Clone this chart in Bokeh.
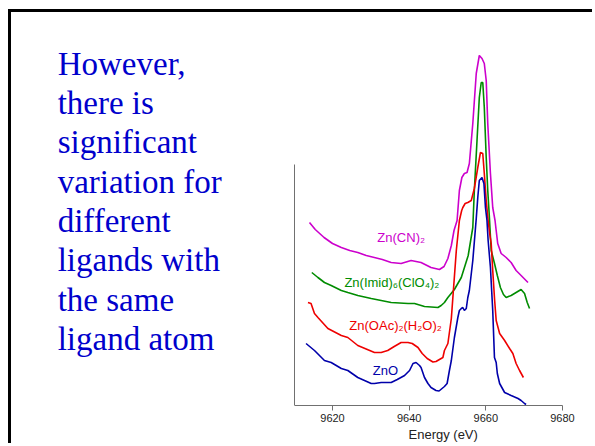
from bokeh.plotting import figure
from bokeh.models import Range1d, FixedTicker, Label, LinearAxis, Title
from bokeh.embed import file_html
from bokeh.resources import INLINE

# ---------------- data ----------------
cn_e = [9614.0, 9615.5, 9617.8, 9620.0, 9622.3, 9624.5, 9626.6, 9628.8, 9630.9, 9633.0,
        9635.3, 9637.9, 9640.5, 9643.1, 9645.7, 9647.9, 9649.1, 9650.1, 9651.0, 9651.7,
        9652.5, 9653.1, 9653.75, 9654.4, 9655.1, 9655.7, 9656.6, 9657.5, 9658.3, 9659.0,
        9659.6, 9660.1, 9660.5, 9661.2, 9661.8, 9662.4, 9662.7, 9663.1, 9664.0, 9665.3,
        9666.6, 9667.9, 9669.2, 9671.0]
cn_y = [1.83, 1.76, 1.68, 1.62, 1.58, 1.55, 1.53, 1.50, 1.48, 1.46,
        1.43, 1.42, 1.45, 1.43, 1.38, 1.36, 1.39, 1.47, 1.60, 1.75,
        1.85, 2.15, 2.28, 2.32, 2.33, 2.42, 2.82, 3.32, 3.50, 3.47,
        3.42, 3.25, 2.82, 2.32, 1.98, 1.85, 1.75, 1.62, 1.52, 1.48,
        1.43, 1.35, 1.30, 1.23]

imid_e = [9614.6, 9616.2, 9617.9, 9619.65, 9622.3, 9624.0, 9626.6, 9630.1, 9632.7, 9635.3,
          9639.7, 9641.4, 9644.0, 9647.5, 9648.35, 9649.2, 9650.1, 9651.8, 9653.6, 9655.4,
          9656.6, 9657.0, 9657.7, 9658.3, 9658.8, 9659.2, 9659.6, 9660.1, 9660.5, 9660.9,
          9661.4, 9662.2, 9663.0, 9663.8, 9664.6, 9665.3, 9666.6, 9667.9, 9669.2, 9670.1,
          9670.8, 9671.4]
imid_y = [1.33, 1.28, 1.23, 1.20, 1.15, 1.13, 1.10, 1.07, 1.05, 1.03,
          1.02, 1.02, 0.99, 0.98, 1.00, 1.03, 1.08, 1.16, 1.28, 1.50,
          1.78, 2.15, 2.65, 3.08, 3.23, 3.23, 2.98, 2.48, 2.15, 1.90,
          1.55, 1.43, 1.30, 1.18, 1.11, 1.08, 1.10, 1.13, 1.16, 1.12,
          1.03, 0.97]

oac_e = [9613.6, 9614.4, 9615.3, 9616.2, 9618.8, 9622.3, 9624.0, 9626.6, 9630.95, 9632.7,
         9634.4, 9636.1, 9637.9, 9639.7, 9640.8, 9642.3, 9643.4, 9644.7, 9646.2, 9647.0,
         9648.8, 9649.2, 9650.1, 9651.0, 9652.3, 9653.1, 9653.7, 9654.0, 9654.6, 9655.3,
         9656.2, 9657.0, 9657.9, 9658.6, 9659.2, 9659.6, 9660.1, 9660.6, 9661.0, 9661.4,
         9661.8, 9662.3, 9662.7, 9663.6, 9664.9, 9666.2, 9667.05, 9667.9, 9668.8, 9669.8]
oac_y = [1.03, 1.02, 0.92, 0.88, 0.77, 0.70, 0.68, 0.60, 0.53, 0.53,
         0.55, 0.59, 0.63, 0.63, 0.62, 0.58, 0.52, 0.47, 0.435, 0.44,
         0.48, 0.55, 0.62, 0.87, 1.55, 1.85, 1.95, 1.98, 2.02, 2.03,
         2.05, 2.17, 2.38, 2.53, 2.52, 2.32, 2.05, 1.85, 1.72, 1.62,
         1.35, 1.05, 0.85, 0.72, 0.65, 0.57, 0.52, 0.42, 0.35, 0.28]

zno_e = [9613.1, 9615.3, 9617.9, 9619.65, 9622.3, 9624.0, 9626.6, 9630.1, 9630.95, 9632.7,
         9635.3, 9636.9, 9638.8, 9640.1, 9641.0, 9641.8, 9642.7, 9643.1, 9644.0, 9644.9,
         9645.7, 9647.0, 9647.8, 9649.2, 9649.9, 9650.5, 9651.0, 9651.8, 9652.7, 9653.1,
         9653.6, 9654.0, 9654.4, 9654.9, 9655.3, 9655.7, 9656.6, 9657.5, 9657.9, 9658.3,
         9659.0, 9659.5, 9659.9, 9660.3, 9660.6, 9661.2, 9661.8, 9662.25, 9662.7, 9663.0,
         9663.6, 9664.9, 9666.6, 9668.4, 9669.2, 9670.1, 9670.5]
zno_y = [0.62, 0.55, 0.45, 0.43, 0.37, 0.35, 0.28, 0.22, 0.22, 0.23,
         0.23, 0.26, 0.30, 0.35, 0.42, 0.43, 0.40, 0.38, 0.28, 0.22,
         0.18, 0.15, 0.145, 0.19, 0.22, 0.35, 0.45, 0.68, 0.88, 0.95,
         0.97, 0.98, 0.95, 0.97, 1.08, 1.15, 1.45, 1.87, 2.08, 2.25,
         2.28, 2.22, 1.98, 1.85, 1.65, 1.38, 0.95, 0.48, 0.43, 0.32,
         0.22, 0.13, 0.10, 0.07, 0.05, 0.02, 0.01]

series_names = ["Zn(CN)₂", "Zn(Imid)₆(ClO₄)₂", "Zn(OAc)₂(H₂O)₂", "ZnO"]
series_colors = ["#cc00cc", "#008c00", "#ee0000", "#0000aa"]
series_e = [cn_e, imid_e, oac_e, zno_e]
series_y = [cn_y, imid_y, oac_y, zno_y]
label_e = [9631.7, 9623.1, 9624.4, 9630.5]
label_y = [1.68, 1.226, 0.803, 0.353]

x_ticks = [9620, 9640, 9660, 9680]
x_axis_span = (9610, 9680)
y_axis_span = (0, 2.41)
x_title = "Energy (eV)"

slide_lines = ["However,", "there is", "significant", "variation for",
               "different", "ligands with", "the same", "ligand atom"]

# ---------------- layout ----------------
W, H = 584, 434            # canvas size (page offset 11/12 px by margin + border)
FRAME_RIGHT = 551          # canvas px of 9680
FRAME_BOTTOM = 393         # canvas px of the x axis
PX_PER_EV = 3.8333
PX_PER_UNIT = 100.0

x_start = x_axis_span[1] - FRAME_RIGHT / PX_PER_EV
y_end = FRAME_BOTTOM / PX_PER_UNIT

p = figure(width=W, height=H, output_backend="svg", toolbar_location=None,
           x_range=Range1d(x_start, x_axis_span[1]), y_range=Range1d(0, y_end),
           y_axis_location=None,
           min_border_left=0, min_border_right=W - FRAME_RIGHT, min_border_top=0,
           min_border_bottom=H - FRAME_BOTTOM)
p.styles = {"margin-left": "8px", "margin-top": "9px",
            "border-left": "3px solid #000000", "border-top": "3px solid #000000"}
p.grid.visible = False
p.outline_line_color = None
p.background_fill_color = "white"
p.border_fill_color = "white"

xa = p.xaxis[0]
xa.ticker = FixedTicker(ticks=x_ticks)
xa.bounds = x_axis_span
xa.axis_line_color = "#707070"
xa.major_tick_line_color = "#707070"
xa.minor_tick_line_color = None
xa.major_tick_in = 0
xa.major_tick_out = 5
xa.major_label_standoff = 3
xa.major_label_text_font = "Liberation Sans"
xa.major_label_text_font_size = "11px"
xa.major_label_text_color = "#222222"

p.add_layout(Title(text=x_title, align="left", offset=397, standoff=0,
                   text_font="Liberation Sans", text_font_size="13px",
                   text_font_style="normal", text_color="#222222"), "below")

ya = LinearAxis(fixed_location=x_axis_span[0], ticker=FixedTicker(ticks=[]),
                bounds=y_axis_span, axis_line_color="#707070",
                major_tick_line_color=None, minor_tick_line_color=None,
                major_label_text_font_size="0px", major_tick_out=0, major_tick_in=0,
                major_label_standoff=0)
p.add_layout(ya, "right")

for e, y, c in zip(series_e, series_y, series_colors):
    p.line(e, y, line_color=c, line_width=1.6)

for name, c, lx, ly in zip(series_names, series_colors, label_e, label_y):
    p.add_layout(Label(x=lx, y=ly, text=name, text_color=c, text_font="Liberation Sans",
                       text_font_size="13px", text_align="left", text_baseline="alphabetic"))

text_left_e = x_axis_span[0] + (56.5 - 293) / PX_PER_EV
for i, line in enumerate(slide_lines):
    baseline_px = 63.0 + 39.35 * i
    p.add_layout(Label(x=text_left_e, y=(405 - baseline_px) / PX_PER_UNIT,
                       text=line, text_color="#0000cc", text_font="Liberation Serif",
                       text_font_size="33px", text_align="left", text_baseline="alphabetic"))

open("out.html", "w").write(file_html(p, INLINE))
